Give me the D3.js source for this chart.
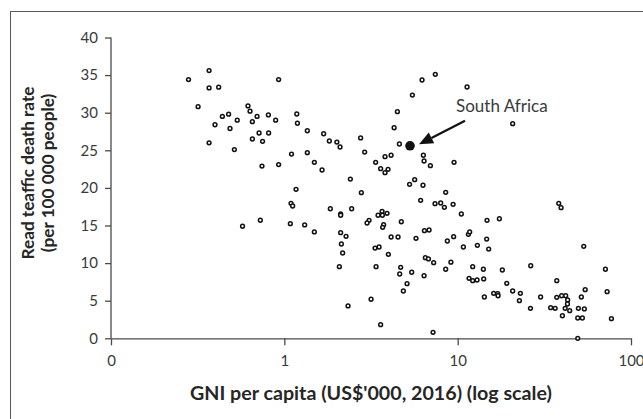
<!DOCTYPE html>
<html>
<head>
<meta charset="utf-8">
<script src="https://cdn.jsdelivr.net/npm/d3@7"></script>
<style>
  html, body { margin: 0; padding: 0; background: #fff; }
  svg { display: block; }
  text { font-family: Lato, "Open Sans", sans-serif; }
</style>
</head>
<body>
<svg id="chart" width="643" height="419"></svg>
<script>
// ---- data ----
const gni = [0.28,0.368,0.368,0.418,0.927,0.318,0.617,0.634,0.477,0.439,0.535,0.696,0.809,0.891,0.654,0.398,0.486,0.715,0.812,0.654,0.749,0.368,0.515,0.743,0.927,0.574,0.727,
6.23,7.43,5.48,4.49,4.30,4.61,1.18,1.19,1.357,1.686,1.818,2.01,2.096,2.755,2.907,1.10,1.357,1.49,1.65,2.404,3.364,3.81,4.13,3.594,3.966,3.81,6.34,6.40,6.96,5.28,5.65,6.31,1.168,
11.33,20.77,9.53,
2.782,8.53,6.115,7.405,7.98,8.38,1.093,1.117,1.842,2.113,2.113,2.446,3.663,3.913,3.473,3.678,3.082,3.001,3.74,3.692,4.73,1.083,1.31,1.49,2.113,2.27,4.13,4.53,5.75,6.43,6.84,8.72,2.133,2.17,3.337,3.52,3.982,6.51,6.78,7.27,9.14,2.077,3.382,4.69,4.63,5.43,6.40,8.53,5.105,4.86,3.165,2.331,3.594,7.21,
9.41,10.5,14.77,17.4,38.3,39.5,9.48,11.53,11.73,10.79,12.99,14.7,15.1,53.4,12.21,14.07,18.1,26.4,71.2,11.63,12.21,12.94,14.13,19.2,37.3,54.4,72.8,14.26,16.13,17.02,17.1,20.77,23.0,22.7,30.1,37.3,39.8,42.0,43.1,43.0,51.7,26.3,34.4,36.5,41.7,44.3,49.7,53.8,40.2,49.3,52.4,77.1,49.3];

const deathRate = [34.4,35.6,33.3,33.4,34.4,30.8,30.9,30.2,29.8,29.5,29.0,29.5,29.7,29.0,28.8,28.4,27.9,27.3,27.3,26.5,26.2,26.0,25.1,22.9,23.1,14.9,15.7,
34.35,35.1,32.35,30.13,28.0,25.84,29.83,28.6,27.6,27.2,26.24,26.1,25.44,26.64,24.77,24.5,24.68,23.4,22.38,21.18,23.4,24.15,24.34,22.55,22.47,22.02,24.34,23.58,22.95,20.48,21.09,20.35,19.81,
33.42,28.54,23.4,
19.36,19.41,18.35,17.9,17.99,17.42,17.95,17.59,17.23,16.53,16.36,17.23,16.89,16.62,16.36,16.36,15.69,15.33,15.11,14.76,15.5,15.24,15.07,14.14,14.04,13.56,13.47,13.47,13.3,14.31,14.4,12.94,12.54,11.34,12.0,12.14,11.17,10.72,10.55,10.05,10.12,9.52,9.52,9.44,8.55,8.78,8.32,9.18,7.26,6.29,5.19,4.3,1.81,0.8,
17.82,16.53,15.69,15.9,17.95,17.37,13.51,13.83,14.14,12.14,12.37,13.2,11.87,12.23,9.52,9.18,9.08,9.65,9.18,7.98,7.66,7.75,7.89,7.31,7.66,6.46,6.2,5.49,5.98,5.93,5.66,6.29,5.98,5.0,5.49,5.45,5.66,5.66,5.09,4.56,5.49,3.99,4.07,3.99,3.99,3.67,3.99,3.9,3.0,2.7,2.7,2.61,0];

const highlightName = ["South Africa"];
const highlightGni = [5.31];
const highlightRate = [25.6];

const xTicks = [0.1, 1, 10, 100];
const xTickLabels = ["0", "1", "10", "100"];
const yTicks = [0, 5, 10, 15, 20, 25, 30, 35, 40];

const xTitle = "GNI per capita (US$'000, 2016) (log scale)";
const yTitleLines = ["Read teaffic death rate", "(per 100 000 people)"];

// ---- layout ----
const svg = d3.select("#chart");
const plot = { left: 111, right: 631, top: 37.5, bottom: 338.3 };
const axisColor = "#4a4a4a";
const textColor = "#3a3a3a";

// outer frame (extends beyond the visible window on right/bottom)
svg.append("rect")
  .attr("x", 10.5).attr("y", 11.5)
  .attr("width", 700).attr("height", 500)
  .attr("fill", "none").attr("stroke", "#5a5a5a").attr("stroke-width", 1);

const x = d3.scaleLog().domain([0.1, 100]).range([plot.left, plot.right]);
const y = d3.scaleLinear().domain([0, 40]).range([plot.bottom, plot.top]);

// y axis
const yAxis = svg.append("g")
  .attr("transform", `translate(${plot.left},0)`)
  .call(d3.axisLeft(y).tickValues(yTicks).tickSize(6).tickSizeOuter(0).tickPadding(7).tickFormat(d3.format("d")));

// x axis
const xAxis = svg.append("g")
  .attr("transform", `translate(0,${plot.bottom})`)
  .call(d3.axisBottom(x).tickValues(xTicks).tickSize(7).tickSizeOuter(0).tickPadding(10)
    .tickFormat((d, i) => xTickLabels[i]));

[xAxis, yAxis].forEach(g => {
  g.select(".domain").attr("stroke", axisColor).attr("stroke-width", 1.3);
  g.selectAll(".tick line").attr("stroke", axisColor).attr("stroke-width", 1.3);
  g.selectAll(".tick text").attr("fill", textColor)
    .style("font-family", "Lato, sans-serif").style("font-size", "15px");
});
yAxis.select(".domain").attr("d", `M0,${plot.bottom}V${plot.top}`);

function fitWidth(sel, target) {
  const node = sel.node();
  const w = node.getComputedTextLength();
  const fs = parseFloat(sel.style("font-size"));
  if (w > 0) sel.style("font-size", (fs * target / w).toFixed(2) + "px");
}

// axis titles
const xt = svg.append("text")
  .attr("x", 371).attr("y", 400)
  .attr("text-anchor", "middle")
  .attr("fill", "#262626")
  .style("font-weight", "bold").style("font-size", "16px")
  .text(xTitle);
fitWidth(xt, 362);

const ytG = svg.append("g").attr("transform", "translate(0,173) rotate(-90)");
const yt1 = ytG.append("text").attr("x", 0).attr("y", 34)
  .attr("text-anchor", "middle").attr("fill", "#262626")
  .style("font-weight", "bold").style("font-size", "16px").text(yTitleLines[0]);
const yt2 = ytG.append("text").attr("x", 0).attr("y", 54)
  .attr("text-anchor", "middle").attr("fill", "#262626")
  .style("font-weight", "bold").style("font-size", "16px").text(yTitleLines[1]);
fitWidth(yt1, 173);
yt2.style("font-size", yt1.style("font-size"));

// points
const pts = gni.map((g, i) => ({ g, r: deathRate[i] }));
svg.append("g").selectAll("circle")
  .data(pts).join("circle")
  .attr("cx", d => x(d.g)).attr("cy", d => y(d.r))
  .attr("r", 1.9)
  .attr("fill", "#fff").attr("stroke", "#111").attr("stroke-width", 1.5);

// highlight point
const hx = x(highlightGni[0]), hy = y(highlightRate[0]);
svg.append("circle").attr("cx", hx).attr("cy", hy).attr("r", 4.8).attr("fill", "#111");

// arrow
const tip = [hx + 9, hy - 1.5];
const tail = [hx + 55, hy - 25];
const ang = Math.atan2(tip[1] - tail[1], tip[0] - tail[0]);
const headLen = 14, headW = 6;
const base = [tip[0] - headLen * Math.cos(ang), tip[1] - headLen * Math.sin(ang)];
svg.append("line")
  .attr("x1", tail[0]).attr("y1", tail[1]).attr("x2", base[0]).attr("y2", base[1])
  .attr("stroke", "#111").attr("stroke-width", 2.2);
svg.append("path")
  .attr("d", `M${tip[0]},${tip[1]}L${base[0] + headW * Math.sin(ang)},${base[1] - headW * Math.cos(ang)}L${base[0] - headW * Math.sin(ang)},${base[1] + headW * Math.cos(ang)}Z`)
  .attr("fill", "#111");

const lbl = svg.append("text")
  .attr("x", hx + 46).attr("y", hy - 34)
  .attr("fill", textColor)
  .style("font-size", "16px")
  .text(highlightName[0]);
fitWidth(lbl, 91.6);
</script>
</body>
</html>
